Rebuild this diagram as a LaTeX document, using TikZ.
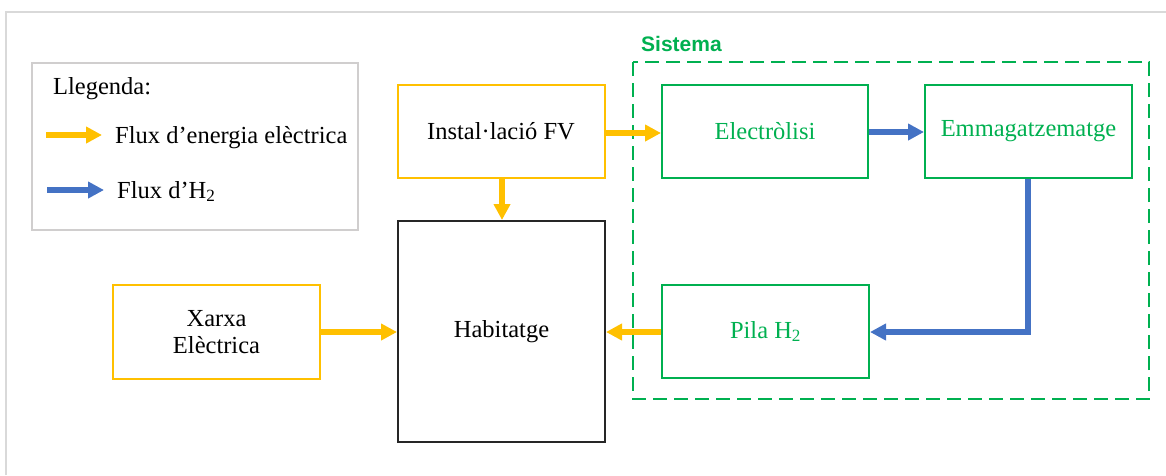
\documentclass[tikz,border=0pt]{standalone}
\usepackage{fontspec}
\setmainfont{Liberation Serif}
\newfontfamily\labelsans{Liberation Sans}
\usetikzlibrary{arrows.meta}

\definecolor{energy}{HTML}{FFC000}
\definecolor{sysgreen}{HTML}{00B050}
\definecolor{hflow}{HTML}{4472C4}
\definecolor{framegray}{HTML}{D9D9D9}
\definecolor{legendgray}{HTML}{D0CECE}

\tikzset{
  blk/.style={draw, rectangle, line width=2pt, inner sep=0pt, align=center,
              font=\fontsize{24.5}{27.5}\selectfont},
  srcbox/.style={blk, draw=energy, text=black},
  sysbox/.style={blk, draw=sysgreen, text=sysgreen},
  homebox/.style={blk, draw=black!85, text=black},
  eflow/.style={draw=energy, line width=5.5pt, -{Triangle[length=16pt,width=16pt]}},
  hflowline/.style={draw=hflow, line width=5.5pt, -{Triangle[length=16pt,width=16pt]}},
  legtext/.style={anchor=base west, inner sep=0pt, font=\fontsize{24.5}{27.5}\selectfont}
}

\begin{document}
\begin{tikzpicture}[x=1pt,y=-1pt]
\useasboundingbox (0,0) rectangle (1166,475);

% page frame
\draw[framegray, line width=1.5pt] (6,475) -- (6,12) -- (1166,12);

% legend
\draw[legendgray, line width=1.5pt] (32,63) rectangle (358,230);
\node[legtext] (leg) at (53,94) {Llegenda:};
\coordinate (le0) at (46,135);
\coordinate (le1) at (102,135);
\draw[eflow] (le0) -- (le1);
\node[legtext] (legE) at (115,143) {Flux d’energia elèctrica};
\coordinate (lh0) at (47,190);
\coordinate (lh1) at (104,190);
\draw[hflowline] (lh0) -- (lh1);
\node[legtext] (legH) at (117,198) {Flux d’H\textsubscript{2}};

% system boundary
\draw[sysgreen, line width=2pt, dash pattern=on 14pt off 7pt] (633,62) rectangle (1149,399);
\node[anchor=base west, inner sep=0pt, text=sysgreen,
      font=\labelsans\bfseries\fontsize{21}{24}\selectfont] (sys) at (641,51) {Sistema};

% blocks
\node[srcbox, minimum width=207pt, minimum height=93pt] (fv) at (501,131.5) {Instal·lació FV};
\node[sysbox, minimum width=206pt, minimum height=93pt] (el) at (765,131.5) {Electròlisi};
\node[sysbox, minimum width=207pt, minimum height=93pt] (em) at (1028.5,131.5) {Emmagatzematge};
\node[homebox, minimum width=207pt, minimum height=221pt] (hab) at (501.5,331.5) {Habitatge};
\node[srcbox, minimum width=207pt, minimum height=94pt] (xa) at (216.5,332) {Xarxa\\Elèctrica};
\node[sysbox, minimum width=207pt, minimum height=93pt] (pila) at (765.5,331.5) {Pila H\textsubscript{2}};

% flows
\draw[eflow] (fv.east |- 0,133) -- (el.west |- 0,133);
\draw[eflow] (fv.south -| 502,0) -- (hab.north -| 502,0);
\draw[eflow] (xa.east |- 0,332) -- (hab.west |- 0,332);
\draw[eflow] (pila.west |- 0,332) -- (hab.east |- 0,332);
\draw[hflowline] (el.east |- 0,132) -- (em.west |- 0,132);
\draw[hflowline] (em.south -| 1028,0) -- (1028,332) -- (pila.east |- 0,332);
\end{tikzpicture}
\end{document}
